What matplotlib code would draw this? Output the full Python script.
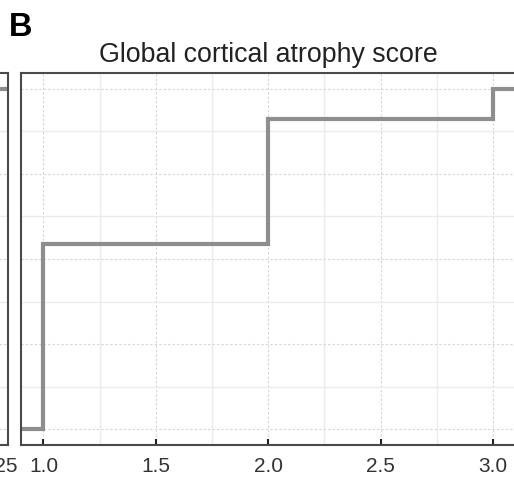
import numpy as np
import matplotlib
matplotlib.use("Agg")
import matplotlib.pyplot as plt
from matplotlib.ticker import MultipleLocator

plt.rcParams['font.family'] = ['Liberation Sans', 'DejaVu Sans']

# Data
score_levels = [1.0, 2.0, 3.0]
cum_fraction = [0.545, 0.912, 1.0]
xticks_b = [1.0, 1.5, 2.0, 2.5, 3.0]
left_levels = [0.2, 0.6, 1.1]
left_cum = [0.3, 0.8, 1.0]
xticks_a = [1.25]
title_b = "Global cortical atrophy score"

W, H = 514, 481
fig = plt.figure(figsize=(W / 100, H / 100), dpi=100)

def px_axes(l, r, t, b):
    return fig.add_axes([l / W, 1 - b / H, (r - l) / W, (b - t) / H])

line_col = '#8e8e8e'
spine_col = '#4a4a4a'

def style(ax):
    for s in ax.spines.values():
        s.set_color(spine_col)
        s.set_linewidth(1.5)
    ax.set_ylim(-0.047, 1.047)
    ax.yaxis.set_major_locator(MultipleLocator(0.25))
    ax.yaxis.set_minor_locator(MultipleLocator(0.125))
    ax.grid(which='major', color='#d4d4d4', linestyle=(0, (2, 2)), linewidth=0.8)
    ax.grid(which='minor', color='#ebebeb', linestyle='-', linewidth=1.0)
    ax.set_axisbelow(True)
    ax.tick_params(axis='y', which='both', left=False, labelleft=False)
    ax.tick_params(axis='x', which='major', direction='in', length=4, width=1.5,
                   color='#222222', labelsize=15, labelcolor='#333333', pad=8)
    ax.tick_params(axis='x', which='minor', length=0)

# Left (partial) panel
axa = px_axes(-470, 8, 74, 446)
style(axa)
axa.set_xlim(-0.05, 1.28)
axa.set_xticks(xticks_a)
axa.set_xticklabels([f"{v:.2f}" for v in xticks_a])
axa.xaxis.set_minor_locator(MultipleLocator(0.125))
axa.step([-0.05] + left_levels + [1.28], [0] + left_cum + [1.0], where='post',
         color=line_col, linewidth=3)

# Panel B
ax = px_axes(21, 515.5, 74, 446)
style(ax)
ax.set_xlim(0.9, 3.1)
ax.set_xticks(xticks_b)
ax.set_xticklabels([f"{v:.1f}" for v in xticks_b])
ax.xaxis.set_minor_locator(MultipleLocator(0.25))
xs = [0.9] + score_levels + [3.1]
ys = [0.0] + cum_fraction + [1.0]
ax.step(xs, ys, where='post', color=line_col, linewidth=3, solid_joinstyle='miter')
ax.set_title(title_b, fontsize=19.3, color='#222222', pad=8.5)

fig.text(9 / W, 1 - 35.5 / H, "B", fontsize=23.5, fontweight='bold', color='black',
         ha='left', va='baseline')

fig.savefig("out.png", dpi=100)
